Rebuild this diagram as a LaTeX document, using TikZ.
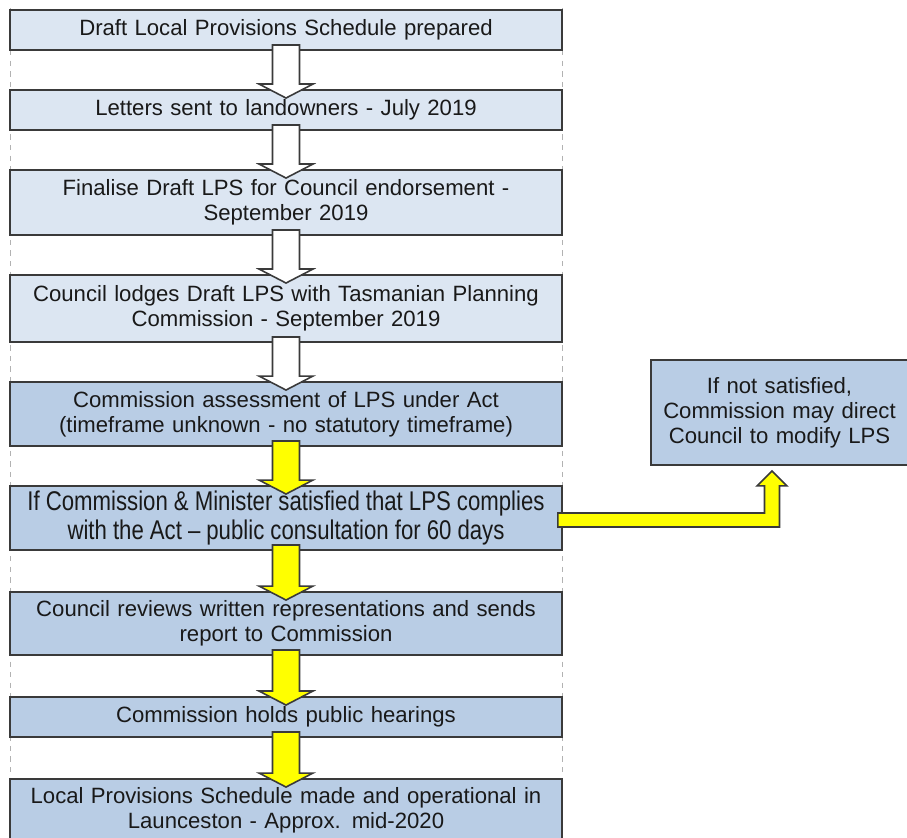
\documentclass[tikz,border=0pt]{standalone}
\usepackage{fontspec}
\setmainfont{Liberation Sans}
\usepackage{graphicx}
\usepackage{xcolor}
\usepackage{tikz}
\usetikzlibrary{positioning,calc}
\definecolor{stagelight}{HTML}{DCE6F2}
\definecolor{stagedark}{HTML}{B9CDE5}
\definecolor{edgegrey}{HTML}{3A3A3A}
\definecolor{flowyellow}{HTML}{FFFF00}

% block arrow from the bottom of one stage to the top of the next
\newcommand{\stagearrow}[3]{%
  \draw[#3] ($(#1.south)+(-13.5,-6)$) -- ($(#2.north)+(-13.5,-5)$)
    -- ($(#2.north)+(-27,-5)$) -- ($(#2.north)+(0,9)$)
    -- ($(#2.north)+(27,-5)$) -- ($(#2.north)+(13.5,-5)$)
    -- ($(#1.south)+(13.5,-6)$) -- cycle;}
% narrow line of text
\newcommand{\narrowline}[1]{\scalebox{0.82}[1]{\fontsize{15.4}{14.2}\selectfont #1}}

\begin{document}
\begin{tikzpicture}[
  x=0.02cm, y=-0.02cm,
  stage/.style={
    draw=edgegrey, line width=1.1pt, minimum width=11.04cm,
    text width=10.6cm, align=center, inner ysep=0pt,
    font=\fontsize{12.6}{14.2}\selectfont, text=black!90
  },
  early/.style={stage, fill=stagelight},
  late/.style={stage, fill=stagedark},
  whitearrow/.style={draw=edgegrey, line width=0.9pt, fill=white},
  yellowarrow/.style={draw=edgegrey, line width=0.9pt, fill=flowyellow},
  guide/.style={draw=gray!60, line width=0.5pt, dashed}
]
\useasboundingbox (0,0) rectangle (907,838);

% column guides
\draw[guide] (10,8) -- (10,838);
\draw[guide] (562,8) -- (562,838);

% Etapas
\node[early, minimum height=0.8cm] (s1) at (286,30) {Draft Local Provisions Schedule prepared};
\node[early, minimum height=0.8cm] (s2) at (286,110) {Letters sent to landowners - July 2019};
\node[early, minimum height=1.3cm] (s3) at (286,202.5) {Finalise Draft LPS for Council endorsement -\\September 2019};
\node[early, minimum height=1.34cm] (s4) at (286,308.5) {Council lodges Draft LPS with Tasmanian Planning\\Commission - September 2019};
\node[late, minimum height=1.28cm] (s5) at (286,414) {Commission assessment of LPS under Act\\(timeframe unknown - no statutory timeframe)};
\node[late, minimum height=1.28cm] (s6) at (286,518) {\narrowline{If Commission \& Minister satisfied that LPS complies}\\[1pt]\narrowline{with the Act – public consultation for 60 days}};
\node[late, minimum height=1.26cm] (s7) at (286,623.5) {Council reviews written representations and sends\\report to Commission};
\node[late, minimum height=0.8cm] (s8) at (286,717) {Commission holds public hearings};
\node[late, minimum height=1.24cm] (s9) at (286,810) {Local Provisions Schedule made and operational in\\Launceston - Approx. mid-2020};

% Rama lateral
\node[late, minimum width=5.1cm, text width=4.9cm, minimum height=2.1cm] (modify) at (779.5,412.5) {If not satisfied,\\Commission may direct\\Council to modify LPS};

% Flechas
\stagearrow{s1}{s2}{whitearrow}
\stagearrow{s2}{s3}{whitearrow}
\stagearrow{s3}{s4}{whitearrow}
\stagearrow{s4}{s5}{whitearrow}
\stagearrow{s5}{s6}{yellowarrow}
\stagearrow{s6}{s7}{yellowarrow}
\stagearrow{s7}{s8}{yellowarrow}
\stagearrow{s8}{s9}{yellowarrow}

\draw[yellowarrow] ($(s6.east)+(-5,-5)$) -- ($(s6.east-|modify.south)+(-15,-5)$)
  -- ($(modify.south)+(-15,20)$) -- ($(modify.south)+(-22.5,20)$)
  -- ($(modify.south)+(-7.5,5)$) -- ($(modify.south)+(7.5,20)$)
  -- ($(modify.south)+(0,20)$) -- ($(s6.east-|modify.south)+(0,9)$)
  -- ($(s6.east)+(-5,9)$) -- cycle;
\end{tikzpicture}
\end{document}
